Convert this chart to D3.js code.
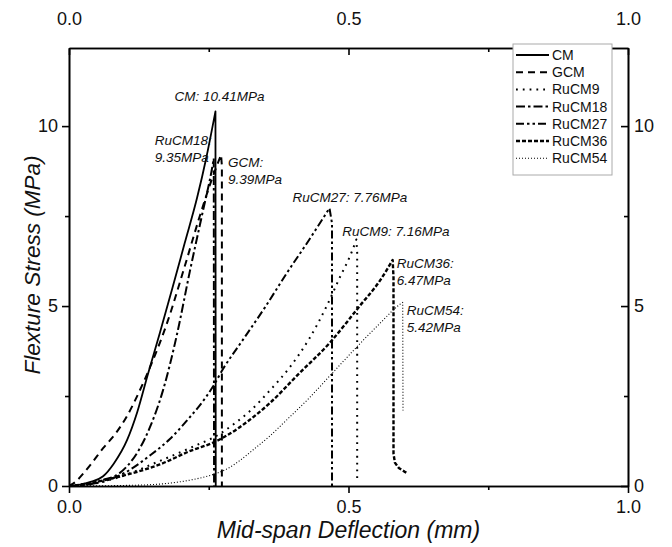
<!DOCTYPE html>
<html>
<head>
<meta charset="utf-8">
<script src="https://cdn.jsdelivr.net/npm/d3@7"></script>
<style>
  body { margin: 0; background: #fff; }
  svg { display: block; font-family: "Liberation Sans", Arial, sans-serif; }
</style>
</head>
<body>
<svg id="chart" width="672" height="547"></svg>
<script>
// series: [deflection mm, stress MPa]
const cmData = [[0,0],[0.02,0.04],[0.04,0.12],[0.061,0.27],[0.08,0.62],[0.104,1.28],[0.122,2.05],[0.141,3.1],[0.1625,4.25],[0.185,5.5],[0.207,6.75],[0.229,8.0],[0.246,9.15],[0.262,10.41],[0.2625,0]];
const gcmData = [[0,0],[0.012,0.12],[0.023,0.3],[0.04,0.62],[0.061,1.05],[0.083,1.45],[0.104,1.95],[0.125,2.6],[0.145,3.3],[0.177,4.6],[0.205,6.0],[0.234,7.5],[0.255,8.5],[0.272,9.2],[0.2735,8.9],[0.2735,0]];
const ruCM9Data = [[0,0],[0.04,0.05],[0.08,0.2],[0.12,0.42],[0.16,0.68],[0.22,1.08],[0.27,1.45],[0.293,1.7],[0.325,2.1],[0.359,2.65],[0.395,3.3],[0.43,4.1],[0.461,5.0],[0.484,5.78],[0.507,6.55],[0.514,6.85],[0.5155,6.5],[0.5155,0.1]];
const ruCM18Data = [[0,0],[0.03,0.03],[0.061,0.17],[0.085,0.3],[0.104,0.55],[0.125,1.0],[0.145,1.64],[0.168,2.65],[0.193,4.2],[0.216,5.95],[0.239,7.6],[0.255,8.75],[0.259,9.1],[0.2595,0]];
const ruCM27Data = [[0,0],[0.03,0.04],[0.06,0.12],[0.1,0.37],[0.145,0.85],[0.18,1.3],[0.21,1.8],[0.257,2.75],[0.2755,3.25],[0.311,4.06],[0.35,4.95],[0.389,5.9],[0.43,6.85],[0.466,7.72],[0.4705,7.3],[0.4705,0]];
const ruCM36Data = [[0,0],[0.03,0.06],[0.06,0.15],[0.1,0.3],[0.1625,0.6],[0.221,1.0],[0.257,1.2],[0.282,1.4],[0.32,1.8],[0.359,2.3],[0.41,3.1],[0.466,3.97],[0.52,5.0],[0.556,5.7],[0.579,6.28],[0.5805,5.8],[0.5805,0.9],[0.583,0.65],[0.59,0.5],[0.6,0.4],[0.606,0.35]];
const ruCM54Data = [[0,0],[0.05,0.005],[0.1,0.015],[0.16,0.05],[0.2,0.12],[0.234,0.22],[0.26,0.33],[0.282,0.47],[0.305,0.7],[0.329,1.0],[0.36,1.4],[0.389,1.83],[0.43,2.45],[0.466,3.05],[0.514,3.85],[0.555,4.5],[0.595,5.08],[0.597,5.1],[0.5975,2.1]];

const seriesNames = ['CM','GCM','RuCM9','RuCM18','RuCM27','RuCM36','RuCM54'];
const seriesData = [cmData, gcmData, ruCM9Data, ruCM18Data, ruCM27Data, ruCM36Data, ruCM54Data];
const peakLabels = [
  ['CM: 10.41MPa'], ['GCM:','9.39MPa'], ['RuCM9: 7.16MPa'], ['RuCM18:','9.35MPa'],
  ['RuCM27: 7.76MPa'], ['RuCM36:','6.47MPa'], ['RuCM54:','5.42MPa']
];
const xTicks = [0, 0.5, 1];
const xMinor = [0.25, 0.75];
const yTicks = [0, 5, 10];
const yMinor = [2.5, 7.5];

// line looks per series
const styles = [
  {dash: null, w: 1.8},
  {dash: '7,5', w: 2},
  {dash: '1.8,5', w: 2},
  {dash: '9,3,2.5,3', w: 2},
  {dash: '8,3,2.5,3,2.5,3', w: 2},
  {dash: '4,2', w: 2.4},
  {dash: '1,2', w: 1.1}
];
// label offset from each peak (px), anchor
const labelPos = [
  {dx: 4, dy: -10, anchor: 'middle'},
  {dx: 7, dy: 12, anchor: 'start'},
  {dx: -14, dy: -3, anchor: 'start'},
  {dx: -59, dy: -13, anchor: 'start'},
  {dx: -37, dy: -6, anchor: 'start'},
  {dx: 4, dy: 8, anchor: 'start'},
  {dx: 4, dy: 13, anchor: 'start'}
];

const svg = d3.select('#chart');
const margin = {top: 48, right: 44, bottom: 61, left: 69};
const width = 672 - margin.left - margin.right;
const height = 547 - margin.top - margin.bottom;

const x = d3.scaleLinear().domain([0, 1]).range([0, width]);
const y = d3.scaleLinear().domain([0, 12.17]).range([height, 0]);

const g = svg.append('g').attr('transform', 'translate(' + margin.left + ',' + margin.top + ')');

g.append('clipPath').attr('id', 'clip')
  .append('rect').attr('width', width).attr('height', height + 2).attr('y', -1);

// smooth loading branch up to the peak, straight lines for the failure drop
const rise = d3.line().x(d => x(d[0])).y(d => y(d[1])).curve(d3.curveMonotoneX);
const drop = d3.line().x(d => x(d[0])).y(d => y(d[1]));

function pathFor(s) {
  let k = d3.maxIndex(s, d => d[1]);
  let a = rise(s.slice(0, k + 1));
  let b = drop(s.slice(k));
  // b starts at the peak, which is where a ends
  return a + b.replace(/^M[^L]*/, '');
}

g.append('g').attr('clip-path', 'url(#clip)')
  .selectAll('path')
  .data(seriesData)
  .enter().append('path')
    .attr('d', pathFor)
    .attr('fill', 'none')
    .attr('stroke', '#000')
    .attr('stroke-linejoin', 'round')
    .attr('stroke-width', (d, i) => styles[i].w)
    .attr('stroke-dasharray', (d, i) => styles[i].dash);

// peak annotations
seriesData.forEach(function(s, i) {
  let peak = s[d3.maxIndex(s, d => d[1])];
  let p = labelPos[i];
  let t = g.append('text')
    .attr('x', x(peak[0]) + p.dx)
    .attr('y', y(peak[1]) + p.dy)
    .attr('text-anchor', p.anchor)
    .attr('font-size', '13.5px')
    .attr('font-style', 'italic')
    .attr('fill', '#111');
  peakLabels[i].forEach(function(txt, j) {
    t.append('tspan')
      .attr('x', x(peak[0]) + p.dx)
      .attr('dy', j === 0 ? 0 : 17)
      .text(txt);
  });
});

// axes
function styleAxis(sel) {
  sel.select('.domain').attr('stroke-width', 1.6);
  sel.selectAll('.tick line').attr('stroke-width', 1.6);
  sel.selectAll('text').attr('font-size', '18px').attr('fill', '#111')
    .attr('font-family', '"Liberation Sans", Arial, sans-serif');
}
const fmtX = d3.format('.1f');

g.append('g').attr('transform', 'translate(0,' + height + ')')
  .call(d3.axisBottom(x).tickValues(xTicks).tickFormat(fmtX).tickSize(7).tickPadding(7).tickSizeOuter(0))
  .call(styleAxis);
g.append('g').attr('transform', 'translate(0,' + height + ')')
  .call(d3.axisBottom(x).tickValues(xMinor).tickFormat('').tickSize(4).tickSizeOuter(0))
  .call(styleAxis);

g.append('g')
  .call(d3.axisTop(x).tickValues(xTicks).tickFormat(fmtX).tickSize(-7).tickPadding(23).tickSizeOuter(0))
  .call(styleAxis);
g.append('g')
  .call(d3.axisTop(x).tickValues(xMinor).tickFormat('').tickSize(-4).tickSizeOuter(0))
  .call(styleAxis);

g.append('g')
  .call(d3.axisLeft(y).tickValues(yTicks).tickFormat(d3.format('d')).tickSize(7).tickPadding(4).tickSizeOuter(0))
  .call(styleAxis);
g.append('g')
  .call(d3.axisLeft(y).tickValues(yMinor).tickFormat('').tickSize(4).tickSizeOuter(0))
  .call(styleAxis);

g.append('g').attr('transform', 'translate(' + width + ',0)')
  .call(d3.axisRight(y).tickValues(yTicks).tickFormat(d3.format('d')).tickSize(-7).tickPadding(6).tickSizeOuter(0))
  .call(styleAxis);
g.append('g').attr('transform', 'translate(' + width + ',0)')
  .call(d3.axisRight(y).tickValues(yMinor).tickFormat('').tickSize(-4).tickSizeOuter(0))
  .call(styleAxis);

// axis titles
svg.append('text')
  .attr('x', margin.left + width / 2)
  .attr('y', 538)
  .attr('text-anchor', 'middle')
  .attr('font-size', '23px')
  .attr('font-style', 'italic')
  .attr('fill', '#111')
  .text('Mid-span Deflection (mm)');

svg.append('text')
  .attr('transform', 'translate(40,' + (margin.top + height / 2 - 2) + ') rotate(-90)')
  .attr('text-anchor', 'middle')
  .attr('font-size', '22.5px')
  .attr('font-style', 'italic')
  .attr('fill', '#111')
  .text('Flexture Stress (MPa)');

// legend
const legend = svg.append('g').attr('transform', 'translate(513,44)');
legend.append('rect')
  .attr('width', 99).attr('height', 131)
  .attr('fill', '#fff').attr('stroke', '#aaa').attr('stroke-width', 1);
const item = legend.selectAll('.item')
  .data(seriesNames)
  .enter().append('g')
    .attr('class', 'item')
    .attr('transform', (d, i) => 'translate(0,' + (11 + i * 17.2) + ')');
item.append('line')
  .attr('x1', 3).attr('x2', 36)
  .attr('stroke', '#000')
  .attr('stroke-width', (d, i) => styles[i].w)
  .attr('stroke-dasharray', (d, i) => styles[i].dash);
item.append('text')
  .attr('x', 39).attr('dy', '0.36em')
  .attr('font-size', '14px')
  .attr('fill', '#111')
  .text(d => d);
</script>
</body>
</html>
